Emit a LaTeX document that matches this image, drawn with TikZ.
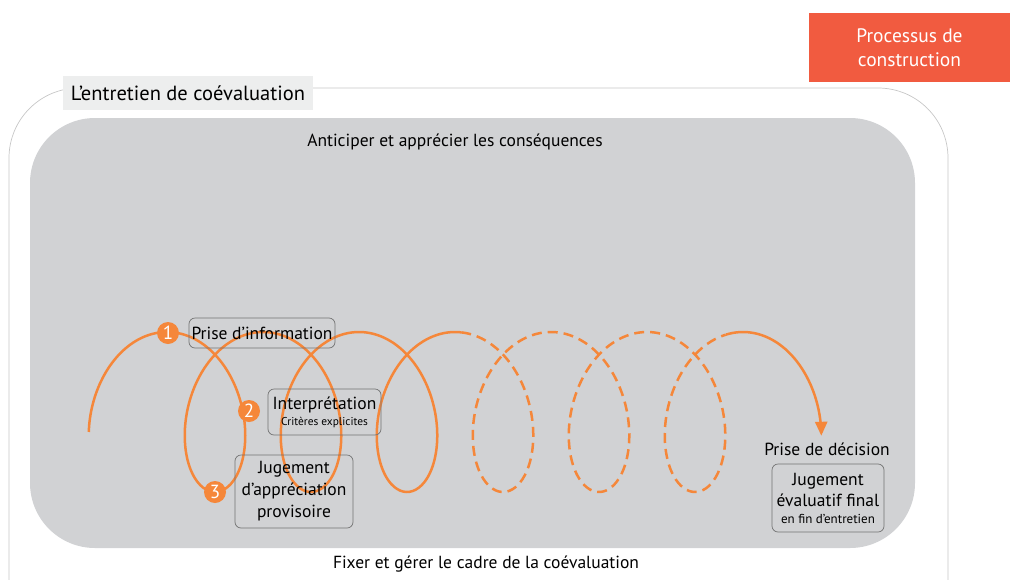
\documentclass[tikz,border=0pt]{standalone}
\usepackage{fontspec}
\setmainfont{PT Sans}
\usetikzlibrary{arrows.meta}
\definecolor{coilorange}{HTML}{F5873A}
\definecolor{panelgray}{HTML}{D1D2D4}
\definecolor{taggray}{HTML}{EDEEEE}
\definecolor{processred}{HTML}{F15B40}
\begin{document}
\begin{tikzpicture}[x=1pt, y=-1pt,
                    every node/.style = {align=center, font=\fontsize{17.5}{20}\selectfont},
                    stage/.style = {draw=black!55, rounded corners=6pt, inner sep=1pt, line width=0.7pt},
                    num/.style = {circle, fill=coilorange, text=white, inner sep=0pt,
                        minimum size=22pt, font=\fontsize{19}{19}\selectfont},
                    coil/.style = {coilorange, line width=2.5pt},
                    declare function = {sx(\t)=215+15.28*\t-52*sin(\t r); sy(\t)=412+80*cos(\t r);}]
\useasboundingbox (0,0) rectangle (1010,579);
\clip (0,0) rectangle (1010,579);
% cadres
\draw[black!22, line width=0.7pt, rounded corners=70pt] (9,88) rectangle (948,650);
\fill[panelgray, rounded corners=65pt] (30,118) rectangle (915,548);
\node[fill=taggray, minimum width=250pt, minimum height=34pt, font=\fontsize{20.5}{22}\selectfont] (entretien) at (188,93) {L’entretien de coévaluation};
\node[fill=processred, text=white, minimum width=201pt, minimum height=69pt, font=\fontsize{19.5}{24}\selectfont] (processus) at (909.5,47.5) {Processus de\\construction};
\node (anticiper) at (455,142) {Anticiper et apprécier les conséquences};
\node (cadre) at (486,564) {Fixer et gérer le cadre de la coévaluation};
% spirale
\draw[coil] plot[domain=-4.965:15.8, samples=240, smooth] ({sx(\x)},{sy(\x)});
\draw[coil, dash pattern=on 10pt off 6pt] plot[domain=15.8:34.3, samples=240, smooth] ({sx(\x)},{sy(\x)});
\draw[coil, -{Triangle[length=14pt,width=12pt]}] plot[domain=34.3:36.43, samples=40, smooth] ({sx(\x)},{sy(\x)});
% etapes
\node[stage, minimum width=146pt, minimum height=30pt] (info) at (262,333) {Prise d’information};
\node[stage, minimum width=113pt, minimum height=46pt] (interpretation) at (324.5,412)
    {Interprétation\\[-4pt]{\fontsize{11.4}{12}\selectfont Critères explicites}};
\node[stage, minimum width=118pt, minimum height=73pt, font=\fontsize{17.5}{22}\selectfont] (provisoire) at (294,491.5)
    {Jugement\\d’appréciation\\provisoire};
\node (decision) at (827,449) {Prise de décision};
\node[stage, minimum width=112pt, minimum height=68pt, font=\fontsize{17.5}{21}\selectfont] (final) at (828,498)
    {Jugement\\évaluatif final\\[-4pt]{\fontsize{13}{14}\selectfont en fin d’entretien}};
\node[num] (n1) at (168,333) {1};
\node[num] (n2) at (249,411) {2};
\node[num] (n3) at (215,492) {3};
\end{tikzpicture}
\end{document}
